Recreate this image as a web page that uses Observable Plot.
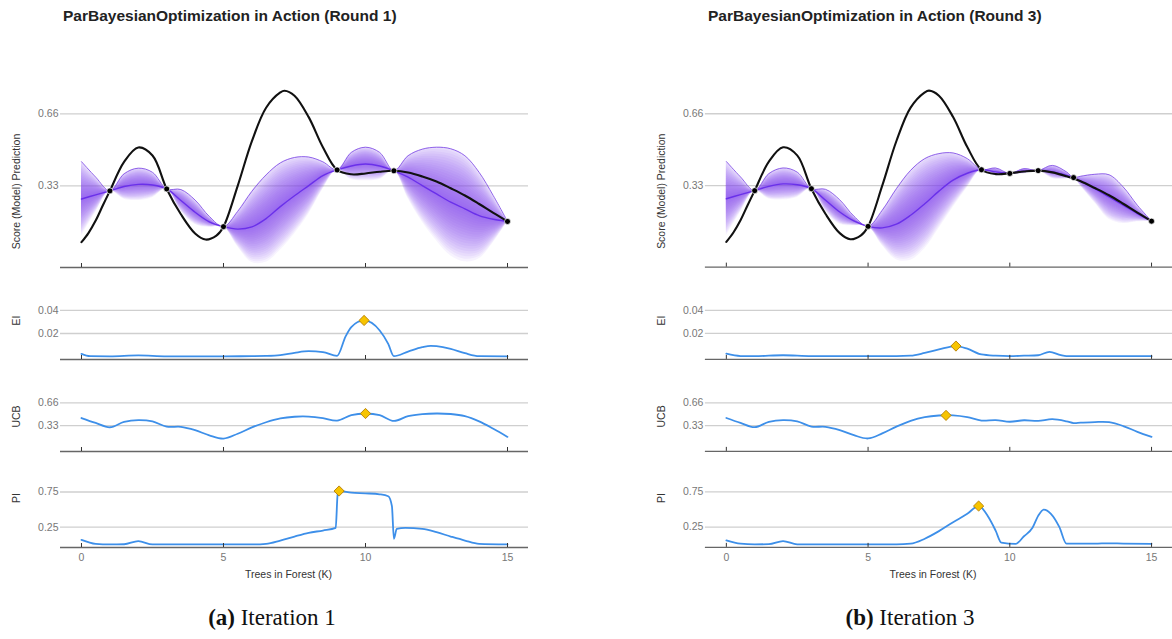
<!DOCTYPE html>
<html><head><meta charset="utf-8">
<script src="https://cdn.jsdelivr.net/npm/d3@7"></script>
<script src="https://cdn.jsdelivr.net/npm/@observablehq/plot@0.6"></script>
<style>
body{margin:0;background:#fff;}
#root{position:relative;width:1172px;height:639px;overflow:hidden;font-family:"Liberation Sans",Arial,sans-serif;}
.title{position:absolute;font-weight:bold;font-size:15.5px;line-height:15.5px;color:#222;white-space:nowrap;}
.cap{position:absolute;font-family:"Liberation Serif",serif;font-size:23px;line-height:23px;color:#111;white-space:nowrap;text-align:center;width:400px;}
.sub{position:absolute;}
</style></head><body><div id="root"></div>
<script>
// ---------------- data ----------------
const titles = ["ParBayesianOptimization in Action (Round 1)", "ParBayesianOptimization in Action (Round 3)"];
const captionTags = ["(a)", "(b)"];
const captionTexts = ["Iteration 1", "Iteration 3"];
const xTicks = [0, 5, 10, 15];
const xLabel = "Trees in Forest (K)";
const yLabels = ["Score (Model) Prediction", "EI", "UCB", "PI"];
const scoreTicks = [0.33, 0.66];
const eiTicks = [0.02, 0.04];
const ucbTicks = [0.33, 0.66];
const piTicks = [0.25, 0.75];

// true (black) function
const trueX = [0, 0.25, 0.5, 0.75, 1, 1.5, 2, 2.5, 3, 3.5, 4, 4.37, 4.75, 5, 5.5, 6, 6.5, 7, 7.15, 7.5, 8, 8.5, 9, 9.5, 10, 10.5, 11, 11.5, 12, 12.5, 13, 13.5, 14, 14.5, 15];
const trueY = [0.072, 0.115, 0.171, 0.24, 0.307, 0.44, 0.506, 0.469, 0.316, 0.2, 0.112, 0.084, 0.102, 0.143, 0.33, 0.535, 0.688, 0.758, 0.766, 0.743, 0.645, 0.507, 0.403, 0.383, 0.387, 0.395, 0.399, 0.391, 0.373, 0.35, 0.319, 0.286, 0.247, 0.206, 0.167];

// Round 1 GP
const r1GpX = [0, 0.5, 1, 1.5, 2, 2.5, 3, 3.5, 4, 4.5, 5, 5.5, 6, 6.5, 7, 7.5, 8, 8.5, 9, 9.5, 10, 10.5, 11, 11.5, 12, 12.5, 13, 13.5, 14, 14.5, 15];
const r1Mean = [0.27, 0.289, 0.307, 0.327, 0.337, 0.334, 0.316, 0.263, 0.209, 0.165, 0.143, 0.132, 0.142, 0.18, 0.235, 0.285, 0.331, 0.377, 0.403, 0.421, 0.43, 0.421, 0.399, 0.37, 0.331, 0.293, 0.255, 0.225, 0.194, 0.177, 0.167];
const r1Upper = [0.441, 0.37, 0.307, 0.385, 0.411, 0.392, 0.316, 0.313, 0.265, 0.19, 0.143, 0.213, 0.305, 0.38, 0.435, 0.46, 0.462, 0.44, 0.403, 0.483, 0.507, 0.483, 0.399, 0.468, 0.498, 0.507, 0.5, 0.468, 0.392, 0.285, 0.167];
const r1ObsX = [1, 3, 5, 9, 11, 15];
const r1ObsY = [0.307, 0.316, 0.143, 0.403, 0.399, 0.167];

// Round 3 GP
const r3GpX = [0, 0.5, 1, 1.5, 2, 2.5, 3, 3.5, 4, 4.5, 5, 5.5, 6, 6.5, 7, 7.5, 8, 8.5, 9, 9.5, 10, 10.5, 11, 11.5, 12, 12.25, 12.5, 13, 13.5, 14, 14.5, 15];
const r3Mean = [0.27, 0.289, 0.307, 0.327, 0.338, 0.334, 0.316, 0.263, 0.209, 0.168, 0.143, 0.136, 0.153, 0.194, 0.247, 0.305, 0.355, 0.387, 0.403, 0.393, 0.386, 0.396, 0.399, 0.393, 0.377, 0.367, 0.35, 0.316, 0.278, 0.24, 0.202, 0.167];
const r3Upper = [0.441, 0.37, 0.307, 0.385, 0.411, 0.392, 0.316, 0.313, 0.265, 0.19, 0.143, 0.217, 0.316, 0.4, 0.454, 0.477, 0.48, 0.454, 0.403, 0.411, 0.386, 0.408, 0.399, 0.423, 0.393, 0.367, 0.373, 0.382, 0.38, 0.324, 0.24, 0.167];
const r3ObsX = [1, 3, 5, 9, 10, 11, 12.25, 15];
const r3ObsY = [0.307, 0.316, 0.143, 0.403, 0.386, 0.399, 0.367, 0.167];

// Expected improvement
const r1EiX = [0, 0.3, 1, 2, 3, 4, 5, 6, 6.5, 7, 7.5, 8, 8.5, 9, 9.3, 9.5, 9.95, 10.5, 10.8, 11, 11.5, 12, 12.3, 12.5, 13, 13.5, 14, 15];
const r1EiY = [0.0023, 0.0003, 0.0002, 0.001, 0.0002, 0.0002, 0.0002, 0.0003, 0.0005, 0.0012, 0.0032, 0.0046, 0.0038, 0.0006, 0.0175, 0.0255, 0.0313, 0.0226, 0.011, 0.0003, 0.0043, 0.0081, 0.0093, 0.009, 0.0067, 0.0029, 0.0003, 0.0002];
const r3EiX = [0, 0.5, 1, 2, 3, 4, 5, 6, 6.5, 7, 7.5, 8.1, 8.5, 9, 9.5, 10, 10.5, 11, 11.4, 11.8, 12, 13, 14, 15];
const r3EiY = [0.0023, 0.0003, 0.0002, 0.001, 0.0002, 0.0002, 0.0002, 0.0002, 0.0006, 0.003, 0.006, 0.009, 0.0067, 0.0017, 0.0006, 0.0002, 0.0006, 0.001, 0.004, 0.001, 0.0002, 0.0002, 0.0002, 0.0002];

// Probability of improvement
const r1PiX = [0, 0.5, 1, 1.5, 2, 2.5, 3, 4, 5, 6, 6.5, 7, 7.5, 8, 8.5, 8.95, 9.02, 9.07, 9.5, 10, 10.5, 10.8, 10.93, 11.0, 11.1, 11.4, 12, 12.5, 13, 13.5, 14, 15];
const r1PiY = [0.071, 0.014, 0.005, 0.008, 0.052, 0.005, 0.005, 0.005, 0.005, 0.005, 0.014, 0.061, 0.118, 0.17, 0.203, 0.24, 0.72, 0.764, 0.74, 0.731, 0.717, 0.69, 0.55, 0.085, 0.226, 0.24, 0.226, 0.179, 0.118, 0.061, 0.014, 0.005];
const r3PiX = [0, 0.5, 1, 1.5, 2, 2.5, 3, 4, 5, 6, 6.5, 7, 7.5, 8, 8.5, 8.9, 9.25, 9.5, 9.7, 10.2, 10.5, 10.8, 11.0, 11.2, 11.45, 11.75, 12, 13, 13.5, 14, 15];
const r3PiY = [0.061, 0.014, 0.005, 0.008, 0.052, 0.005, 0.005, 0.005, 0.005, 0.005, 0.014, 0.085, 0.193, 0.32, 0.439, 0.55, 0.39, 0.2, 0.03, 0.012, 0.12, 0.24, 0.41, 0.5, 0.44, 0.25, 0.015, 0.015, 0.02, 0.015, 0.012];

// chosen next points (yellow diamonds)
const r1EiBest = [9.95, 0.0313], r3EiBest = [8.1, 0.009];
const r1UcbBest = [10.0, 0.507], r3UcbBest = [7.75, 0.479];
const r1PiBest = [9.07, 0.764], r3PiBest = [8.9, 0.55];

// ---------------- layout ----------------
const root = document.getElementById("root");
const W = 528, ML = 60;
const xDomain = [-0.739, 15.739];
const FONT = "'Liberation Sans', Arial, sans-serif";
const panels = [
  {key: "score", top: 73, height: 204, mb: 10, yDomain: [-0.044, 0.799], ticks: scoreTicks, labelCenter: 191},
  {key: "ei", top: 295, height: 74, mb: 10, yDomain: [-0.0026, 0.0443], ticks: eiTicks, labelCenter: 320},
  {key: "ucb", top: 388, height: 73, mb: 10, yDomain: [-0.045, 0.725], ticks: ucbTicks, labelCenter: 416},
  {key: "pi", top: 476, height: 111, mb: 40, yDomain: [-0.038, 0.828], ticks: piTicks, labelCenter: 497.5}
];
const MT = 10;

const zip = (xs, ys) => xs.map((x, i) => ({x, y: ys[i]}));
const bandFactors = d3.range(1, 21).map(i => i / 20);

function build(round, offsetX) {
  const gp = (round === 1 ? r1GpX : r3GpX).map((x, i) => ({
    x, mean: (round === 1 ? r1Mean : r3Mean)[i], upper: (round === 1 ? r1Upper : r3Upper)[i]
  }));
  const truth = zip(trueX, trueY);
  const obs = round === 1 ? zip(r1ObsX, r1ObsY) : zip(r3ObsX, r3ObsY);
  const ei = round === 1 ? zip(r1EiX, r1EiY) : zip(r3EiX, r3EiY);
  const pi = round === 1 ? zip(r1PiX, r1PiY) : zip(r3PiX, r3PiY);
  const ucb = gp.map(d => ({x: d.x, y: d.upper}));
  const best = {
    ei: round === 1 ? r1EiBest : r3EiBest,
    ucb: round === 1 ? r1UcbBest : r3UcbBest,
    pi: round === 1 ? r1PiBest : r3PiBest
  };

  panels.forEach((p, pi_) => {
    const frameH = p.height - MT - p.mb;
    const frameCenter = p.top + MT + frameH / 2;
    const marks = [
      Plot.gridY(p.ticks, {stroke: "#cfcfcf", strokeOpacity: 1, strokeWidth: 1.3}),
      Plot.axisY(p.ticks, {tickSize: 0, tickPadding: 2, tickFormat: d3.format(".2f"), fill: "#777", fontSize: 10.5, label: null}),
      Plot.text([yLabels[pi_]], {text: d => d, frameAnchor: "left", rotate: -90, dx: -43.5, dy: p.labelCenter - frameCenter, fontSize: 10.5, fill: "#333", textAnchor: "middle", lineAnchor: "middle"})
    ];
    if (p.key === "score") {
      bandFactors.forEach(f => marks.push(Plot.areaY(gp, {
        x: "x", y1: d => d.mean - f * (d.upper - d.mean), y2: d => d.mean + f * (d.upper - d.mean),
        fill: "#7b3ff0", fillOpacity: 0.062, curve: "catmull-rom"
      })));
      marks.push(Plot.areaY(gp, {x: "x", y1: "mean", y2: "upper", fill: "#9466f0", fillOpacity: 0.15, curve: "catmull-rom"}));
      marks.push(Plot.line(gp, {x: "x", y: "upper", stroke: "#8655e6", strokeWidth: 0.9, curve: "catmull-rom"}));
      marks.push(Plot.line(gp, {x: "x", y: "mean", stroke: "#6a30ea", strokeWidth: 1.4, curve: "catmull-rom"}));
      marks.push(Plot.line(truth, {x: "x", y: "y", stroke: "#111", strokeWidth: 2.1, curve: "catmull-rom"}));
      marks.push(Plot.dot(obs, {x: "x", y: "y", r: 3, fill: "#000", stroke: "#fff", strokeWidth: 0.7}));
    } else {
      const series = p.key === "ei" ? ei : p.key === "ucb" ? ucb : pi;
      marks.push(Plot.line(series, {x: "x", y: "y", stroke: "#3d8fe9", strokeWidth: 1.8, curve: p.key === "ucb" ? "catmull-rom" : "monotone-x"}));
      const b = best[p.key];
      marks.push(Plot.dot([b], {x: d => d[0], y: d => d[1], symbol: "diamond2", r: 4.6, fill: "#f7c400", stroke: "#b67d00", strokeWidth: 0.9}));
    }
    marks.push(Plot.ruleY([p.yDomain[0]], {stroke: "#666", strokeWidth: 1.4}));
    marks.push(Plot.axisX(xTicks, {tickSize: -4, tickPadding: 10, stroke: "#333", fill: "#777", fontSize: 10.5, label: null,
      tickFormat: p.key === "pi" ? d => String(d) : () => ""}));
    if (p.key === "pi") {
      marks.push(Plot.text([xLabel], {text: d => d, frameAnchor: "bottom", dx: -6, dy: 27, fontSize: 10.5, fill: "#333", lineAnchor: "middle"}));
    }
    const svg = Plot.plot({
      width: W, height: p.height,
      marginLeft: ML, marginRight: 0, marginTop: MT, marginBottom: p.mb,
      style: {fontFamily: FONT, background: "transparent", overflow: "visible"},
      x: {domain: xDomain, axis: null},
      y: {domain: p.yDomain, axis: null},
      marks
    });
    const div = document.createElement("div");
    div.className = "sub";
    div.style.left = offsetX + "px";
    div.style.top = p.top + "px";
    div.appendChild(svg);
    root.appendChild(div);
  });

  const t = document.createElement("div");
  t.className = "title";
  t.style.left = (offsetX + 63) + "px";
  t.style.top = "8px";
  t.textContent = titles[round === 1 ? 0 : 1];
  root.appendChild(t);
}

build(1, 0);
build(3, 645);

// captions
[[0, 272], [1, 910]].forEach(([i, cx]) => {
  const c = document.createElement("div");
  c.className = "cap";
  c.style.left = (cx - 200) + "px";
  c.style.top = "606px";
  c.innerHTML = "<b>" + captionTags[i] + "</b> " + captionTexts[i];
  root.appendChild(c);
});
</script></body></html>
